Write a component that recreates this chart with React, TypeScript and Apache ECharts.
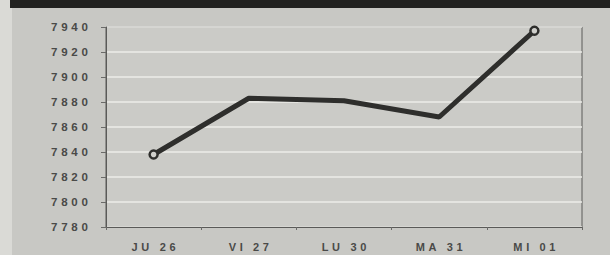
import React, { useEffect, useRef } from "react";
import * as echarts from "echarts";

const categories = ["JU 26", "VI 27", "LU 30", "MA 31", "MI 01"];
const values = [7838, 7883, 7881, 7868, 7937];
const yMin = 7780;
const yMax = 7940;
const yStep = 20;

const spaced = (s: string) => s.split("").join("\u2004");

export default function App() {
  const ref = useRef<HTMLDivElement>(null);
  useEffect(() => {
    if (!ref.current) return;
    const chart = echarts.init(ref.current, null, { renderer: "svg" });
    const last = values.length - 1;
    chart.setOption({
      animation: false,
      backgroundColor: "#c8c8c4",
      graphic: [
        { type: "rect", left: 0, top: 0, shape: { width: 12, height: 255 }, style: { fill: "#dadad6" }, z: -1 },
        { type: "rect", left: 10, top: 0, shape: { width: 600, height: 8 }, style: { fill: "#222220" } },
      ],
      grid: {
        left: 106,
        right: 28,
        top: 27,
        bottom: 28,
        show: true,
        backgroundColor: "#cbcbc7",
        borderColor: "#5a5a58",
        borderWidth: 1,
      },
      xAxis: {
        type: "category",
        data: categories,
        boundaryGap: true,
        axisLine: { lineStyle: { color: "#5a5a58", width: 1 } },
        axisTick: { show: true, length: 3, lineStyle: { color: "#6a6a68" } },
        axisLabel: {
          color: "#4a4a48",
          fontFamily: "Liberation Sans, Arial, sans-serif",
          fontWeight: "bold",
          fontSize: 11,
          margin: 14,
          formatter: (v: string) => spaced(v),
        },
      },
      yAxis: {
        type: "value",
        min: yMin,
        max: yMax,
        interval: yStep,
        axisLine: { show: true, lineStyle: { color: "#5a5a58", width: 1 } },
        axisTick: { show: true, length: 5, lineStyle: { color: "#6a6a68" } },
        axisLabel: {
          color: "#4a4a48",
          fontFamily: "Liberation Sans, Arial, sans-serif",
          fontWeight: "bold",
          fontSize: 11.5,
          margin: 18,
          formatter: (v: number) => spaced(String(v)),
        },
        splitLine: { show: true, lineStyle: { color: "#ececE8", width: 1.5 } },
      },
      series: [
        {
          type: "line",
          data: values.map((v, i) =>
            i === 0 || i === last
              ? { value: v, symbol: "circle", symbolSize: 8 }
              : { value: v, symbol: "none" }
          ),
          showSymbol: true,
          lineStyle: { color: "#2e2e2c", width: 5 },
          itemStyle: { color: "#cfcfcb", borderColor: "#2e2e2c", borderWidth: 2.5 },
        },
      ],
    });
    return () => chart.dispose();
  }, []);
  return (
    <div
      ref={ref}
      style={{ position: "fixed", left: 0, top: 0, width: 610, height: 255 }}
    />
  );
}
